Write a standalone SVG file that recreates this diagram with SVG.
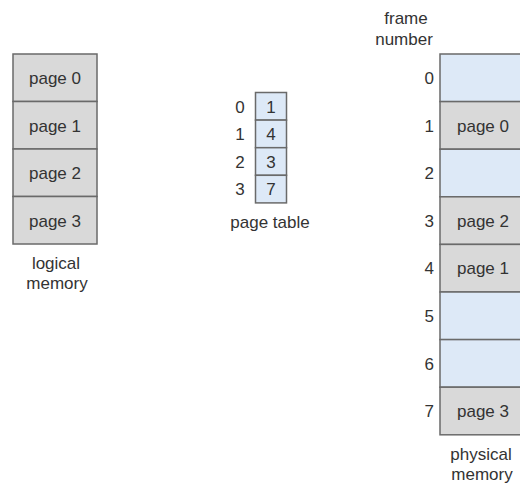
<svg xmlns="http://www.w3.org/2000/svg" width="520" height="484" viewBox="0 0 520 484">
  <style>
    text { font-family: "Liberation Sans", Arial, sans-serif; fill: #333; }
    .lbl { font-size: 17px; text-anchor: middle; }
    .num { font-size: 17px; text-anchor: end; }
    .pt { font-size: 17px; text-anchor: middle; }
    .gray { fill: #d9d9d9; stroke: #6a6a6a; stroke-width: 1.5; }
    .blue { fill: #dde9f7; stroke: #6a6a6a; stroke-width: 1.5; }
  </style>
  <rect width="520" height="484" fill="#ffffff"/>

  <!-- logical memory -->
  <g id="logical-memory">
    <rect class="gray" x="13" y="54" width="84" height="47.5"/>
    <rect class="gray" x="13" y="101.5" width="84" height="47.5"/>
    <rect class="gray" x="13" y="149" width="84" height="47.5"/>
    <rect class="gray" x="13" y="196.5" width="84" height="47.5"/>
    <text class="lbl" x="55" y="84">page 0</text>
    <text class="lbl" x="55" y="131.5">page 1</text>
    <text class="lbl" x="55" y="179">page 2</text>
    <text class="lbl" x="55" y="226.5">page 3</text>
    <text class="lbl" x="56" y="268.5">logical</text>
    <text class="lbl" x="57" y="288.5">memory</text>
  </g>

  <!-- page table -->
  <g id="page-table">
    <rect class="blue" x="255.5" y="92.5" width="31" height="27.6"/>
    <rect class="blue" x="255.5" y="120.1" width="31" height="27.6"/>
    <rect class="blue" x="255.5" y="147.7" width="31" height="27.6"/>
    <rect class="blue" x="255.5" y="175.3" width="31" height="27.6"/>
    <text class="pt" x="271" y="112.5">1</text>
    <text class="pt" x="271" y="140">4</text>
    <text class="pt" x="271" y="167.5">3</text>
    <text class="pt" x="271" y="195">7</text>
    <text class="pt" x="240" y="112.5">0</text>
    <text class="pt" x="240" y="140">1</text>
    <text class="pt" x="240" y="167.5">2</text>
    <text class="pt" x="240" y="195">3</text>
    <text class="lbl" x="270" y="228">page table</text>
  </g>

  <!-- physical memory -->
  <g id="physical-memory">
    <text class="lbl" x="406" y="24">frame</text>
    <text class="lbl" x="404" y="44.5">number</text>
    <rect class="blue" x="440" y="54" width="84" height="47.6"/>
    <rect class="gray" x="440" y="101.6" width="84" height="47.6"/>
    <rect class="blue" x="440" y="149.2" width="84" height="47.6"/>
    <rect class="gray" x="440" y="196.8" width="84" height="47.6"/>
    <rect class="gray" x="440" y="244.4" width="84" height="47.6"/>
    <rect class="blue" x="440" y="292" width="84" height="47.6"/>
    <rect class="blue" x="440" y="339.6" width="84" height="47.6"/>
    <rect class="gray" x="440" y="387.2" width="84" height="47.6"/>
    <text class="num" x="434" y="84">0</text>
    <text class="num" x="434" y="131.6">1</text>
    <text class="num" x="434" y="179.2">2</text>
    <text class="num" x="434" y="226.8">3</text>
    <text class="num" x="434" y="274.4">4</text>
    <text class="num" x="434" y="322">5</text>
    <text class="num" x="434" y="369.6">6</text>
    <text class="num" x="434" y="417.2">7</text>
    <text class="lbl" x="483" y="131.6">page 0</text>
    <text class="lbl" x="483" y="226.8">page 2</text>
    <text class="lbl" x="483" y="274.4">page 1</text>
    <text class="lbl" x="483" y="417.2">page 3</text>
    <text class="lbl" x="481" y="459.5">physical</text>
    <text class="lbl" x="482" y="479.5">memory</text>
  </g>
</svg>
